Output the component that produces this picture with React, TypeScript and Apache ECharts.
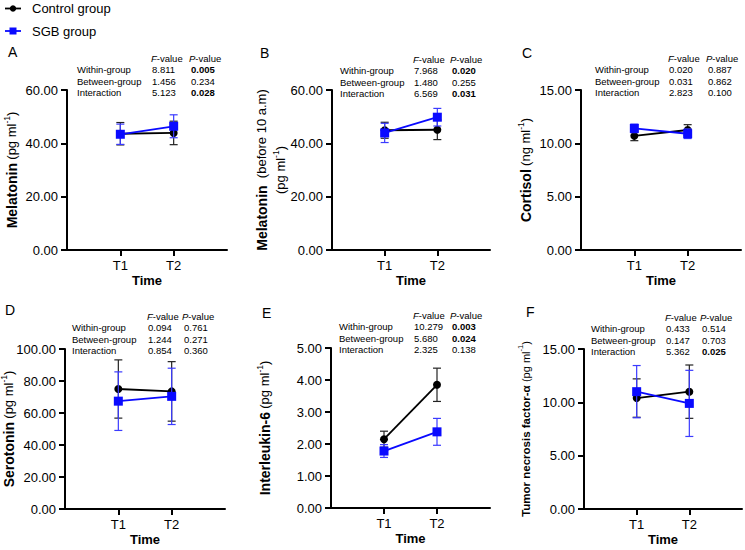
import React, { useEffect, useRef } from 'react';
import * as echarts from 'echarts';

const FONT = '"Liberation Sans", Arial, Helvetica, sans-serif';

// ---- data ----
const timePoints = ['T1', 'T2'];
const statRows = ['Within-group', 'Between-group', 'Interaction'];
const groupNames = ['Control group', 'SGB group'];

// A: Melatonin
const melatoninControl = [43.6, 43.9];
const melatoninControlErr = [4.2, 4.4];
const melatoninSGB = [43.4, 46.4];
const melatoninSGBErr = [3.8, 4.3];
const melatoninF = ['8.811', '1.456', '5.123'];
const melatoninP = ['0.005', '0.234', '0.028'];

// B: Melatonin before 10 a.m
const melatonin10Control = [44.9, 45.1];
const melatonin10ControlErr = [3.0, 3.7];
const melatonin10SGB = [43.9, 49.8];
const melatonin10SGBErr = [3.6, 3.3];
const melatonin10F = ['7.968', '1.480', '6.569'];
const melatonin10P = ['0.020', '0.255', '0.031'];

// C: Cortisol
const cortisolControl = [10.7, 11.25];
const cortisolControlErr = [0.45, 0.5];
const cortisolSGB = [11.4, 10.9];
const cortisolSGBErr = [0.4, 0.45];
const cortisolF = ['0.020', '0.031', '2.823'];
const cortisolP = ['0.887', '0.862', '0.100'];

// D: Serotonin
const serotoninControl = [75.0, 73.5];
const serotoninControlErr = [18.2, 18.6];
const serotoninSGB = [67.4, 70.4];
const serotoninSGBErr = [18.3, 17.6];
const serotoninF = ['0.094', '1.244', '0.854'];
const serotoninP = ['0.761', '0.271', '0.360'];

// E: Interleukin-6
const il6Control = [2.15, 3.85];
const il6ControlErr = [0.25, 0.52];
const il6SGB = [1.78, 2.38];
const il6SGBErr = [0.2, 0.42];
const il6F = ['10.279', '5.680', '2.325'];
const il6P = ['0.003', '0.024', '0.138'];

// F: TNF-alpha
const tnfControl = [10.4, 11.0];
const tnfControlErr = [1.8, 2.5];
const tnfSGB = [11.0, 9.9];
const tnfSGBErr = [2.45, 3.1];
const tnfF = ['0.433', '0.147', '5.362'];
const tnfP = ['0.514', '0.703', '0.025'];

const panelLetters = ['A', 'B', 'C', 'D', 'E', 'F'];
const yMaxes = [60, 60, 15, 100, 5, 15];
const yIntervals = [20, 20, 5, 20, 1, 5];

const BLACK = '#000000';
const BLUE = '#0a0aff';
const BLUE_ERR = '#3b3bff';
const BLACK_ERR = '#222222';

const unit = (ml: string, big: boolean) =>
  big
    ? `{n|(${ml}}{s|-1}{n|)}`
    : `{ns|(${ml}}{ss|-1}{ns|)}`;

const panels = [
  {
    name: `{b|Melatonin} ${unit('pg ml', true)}`,
    control: melatoninControl, controlErr: melatoninControlErr, sgb: melatoninSGB, sgbErr: melatoninSGBErr,
    F: melatoninF, P: melatoninP,
    grid: { left: 67, top: 90, width: 160, height: 160 }, nameGap: 46,
    table: { lx: 77, fx: 151, px: 189, y0: 58, dy: 11.5 }, letter: [8, 52],
  },
  {
    name: `{b|Melatonin}{n|  (before 10 a.m)}\n${unit('pg ml', true)}`,
    control: melatonin10Control, controlErr: melatonin10ControlErr, sgb: melatonin10SGB, sgbErr: melatonin10SGBErr,
    F: melatonin10F, P: melatonin10P,
    grid: { left: 332, top: 90, width: 158, height: 160 }, nameGap: 42,
    table: { lx: 340, fx: 413, px: 450, y0: 59, dy: 11.5 }, letter: [260, 53],
  },
  {
    name: `{b|Cortisol} ${unit('ng ml', true)}`,
    control: cortisolControl, controlErr: cortisolControlErr, sgb: cortisolSGB, sgbErr: cortisolSGBErr,
    F: cortisolF, P: cortisolP,
    grid: { left: 581, top: 90, width: 160, height: 160 }, nameGap: 46,
    table: { lx: 595, fx: 668, px: 706, y0: 58, dy: 11.5 }, letter: [522, 53],
  },
  {
    name: `{b|Serotonin} ${unit('pg ml', true)}`,
    control: serotoninControl, controlErr: serotoninControlErr, sgb: serotoninSGB, sgbErr: serotoninSGBErr,
    F: serotoninF, P: serotoninP,
    grid: { left: 65, top: 349, width: 160, height: 160 }, nameGap: 47,
    table: { lx: 72, fx: 147, px: 182, y0: 316, dy: 11.5 }, letter: [5, 310],
  },
  {
    name: `{b|Interleukin-6} ${unit('pg ml', true)}`,
    control: il6Control, controlErr: il6ControlErr, sgb: il6SGB, sgbErr: il6SGBErr,
    F: il6F, P: il6P,
    grid: { left: 331, top: 348, width: 159, height: 160 }, nameGap: 57,
    table: { lx: 339, fx: 413, px: 450, y0: 315, dy: 11.5 }, letter: [262, 313],
  },
  {
    name: `{bs|Tumor necrosis factor-α} ${unit('pg ml', false)}`,
    control: tnfControl, controlErr: tnfControlErr, sgb: tnfSGB, sgbErr: tnfSGBErr,
    F: tnfF, P: tnfP,
    grid: { left: 584, top: 349, width: 158, height: 160 }, nameGap: 49,
    table: { lx: 591, fx: 665, px: 700, y0: 317, dy: 11.5 }, letter: [526, 312],
  },
];

const errRender = (color: string) => (params: any, api: any) => {
  const x = api.value(0);
  const m = api.value(1);
  const e = api.value(2);
  const top = api.coord([x, m + e]);
  const bot = api.coord([x, m - e]);
  const hw = 4;
  const style = { stroke: color, lineWidth: 1.2 };
  return {
    type: 'group',
    children: [
      { type: 'line', shape: { x1: top[0], y1: top[1], x2: bot[0], y2: bot[1] }, style },
      { type: 'line', shape: { x1: top[0] - hw, y1: top[1], x2: top[0] + hw, y2: top[1] }, style },
      { type: 'line', shape: { x1: bot[0] - hw, y1: bot[1], x2: bot[0] + hw, y2: bot[1] }, style },
    ],
  };
};

function buildOption() {
  const grid: any[] = [];
  const xAxis: any[] = [];
  const yAxis: any[] = [];
  const series: any[] = [];
  const graphic: any[] = [];

  // legend drawn manually
  const legendY = [8.5, 31];
  const legendColors = [BLACK, BLUE];
  groupNames.forEach((g, k) => {
    const y = legendY[k];
    graphic.push({
      type: 'line', shape: { x1: 5, y1: y, x2: 21, y2: y },
      style: { stroke: legendColors[k], lineWidth: 1.8 },
    });
    if (k === 0) {
      graphic.push({ type: 'circle', shape: { cx: 13, cy: y, r: 3.2 }, style: { fill: BLACK } });
    } else {
      graphic.push({ type: 'rect', shape: { x: 9.5, y: y - 3.5, width: 7, height: 7 }, style: { fill: BLUE } });
    }
    graphic.push({
      type: 'text', x: 32, y,
      style: {
        text: g, fontFamily: FONT, fontSize: 13, fill: '#000',
        verticalAlign: 'middle', textVerticalAlign: 'middle',
      },
    });
  });

  panels.forEach((p, i) => {
    grid.push({ ...p.grid, containLabel: false, outerBoundsMode: 'none' });
    xAxis.push({
      type: 'value', gridIndex: i, min: 0, max: 3,
      name: 'Time', nameLocation: 'middle', nameGap: 24, nameMoveOverlap: false,
      nameTextStyle: { fontFamily: FONT, fontSize: 13, fontWeight: 'bold', color: '#000' },
      axisLine: { show: true, onZero: false, lineStyle: { color: '#000', width: 2 } },
      axisTick: { show: true, length: 6, lineStyle: { color: '#000', width: 2 }, customValues: [1, 2] },
      axisLabel: {
        show: true, margin: 9, fontFamily: FONT, fontSize: 13, color: '#000',
        customValues: [1, 2],
        formatter: (v: number) => timePoints[Math.round(v) - 1] ?? '',
      },
      splitLine: { show: false },
    });
    yAxis.push({
      type: 'value', gridIndex: i, min: 0, max: yMaxes[i], interval: yIntervals[i],
      name: p.name, nameLocation: 'middle', nameGap: p.nameGap, nameMoveOverlap: false,
      nameTextStyle: {
        fontFamily: FONT, color: '#000', align: 'center', lineHeight: 19,
        rich: {
          b: { fontFamily: FONT, fontSize: 14, fontWeight: 'bold', color: '#000' },
          bs: { fontFamily: FONT, fontSize: 11.5, fontWeight: 'bold', color: '#000' },
          n: { fontFamily: FONT, fontSize: 13, color: '#000' },
          s: { fontFamily: FONT, fontSize: 8.5, color: '#000', verticalAlign: 'top' },
          ns: { fontFamily: FONT, fontSize: 11, color: '#000' },
          ss: { fontFamily: FONT, fontSize: 7.5, color: '#000', verticalAlign: 'top' },
        },
      },
      axisLine: { show: true, lineStyle: { color: '#000', width: 2 } },
      axisTick: { show: true, length: 6, lineStyle: { color: '#000', width: 2 } },
      axisLabel: {
        margin: 9, fontFamily: FONT, fontSize: 13, color: '#000',
        formatter: (v: number) => v.toFixed(2),
      },
      splitLine: { show: false },
    });

    const cData = p.control.map((v, k) => [k + 1, v]);
    const sData = p.sgb.map((v, k) => [k + 1, v]);
    const cErr = p.control.map((v, k) => [k + 1, v, p.controlErr[k]]);
    const sErr = p.sgb.map((v, k) => [k + 1, v, p.sgbErr[k]]);

    series.push({
      type: 'custom', name: 'cerr', xAxisIndex: i, yAxisIndex: i,
      renderItem: errRender(BLACK_ERR), data: cErr, encode: { x: 0, y: [1] }, clip: false, z: 2,
    });
    series.push({
      type: 'line', name: groupNames[0], xAxisIndex: i, yAxisIndex: i, data: cData,
      symbol: 'circle', symbolSize: 8, color: BLACK,
      lineStyle: { color: BLACK, width: 1.8 }, itemStyle: { color: BLACK }, z: 3,
    });
    series.push({
      type: 'custom', name: 'serr', xAxisIndex: i, yAxisIndex: i,
      renderItem: errRender(BLUE_ERR), data: sErr, encode: { x: 0, y: [1] }, clip: false, z: 4,
    });
    series.push({
      type: 'line', name: groupNames[1], xAxisIndex: i, yAxisIndex: i, data: sData,
      symbol: 'rect', symbolSize: 9, color: BLUE,
      lineStyle: { color: BLUE, width: 1.8 }, itemStyle: { color: BLUE }, z: 5,
    });

    // panel letter
    graphic.push({
      type: 'text', x: p.letter[0], y: p.letter[1],
      style: {
        text: panelLetters[i], fontFamily: FONT, fontSize: 14, fill: '#000',
        verticalAlign: 'middle', textVerticalAlign: 'middle',
      },
    });

    // stats table
    const t = p.table;
    const baseStyle = { fontFamily: FONT, fontSize: 9.5, fill: '#000' };
    ['F', 'P'].forEach((letter, h) => {
      graphic.push({
        type: 'text', x: h === 0 ? t.fx : t.px, y: t.y0,
        style: {
          ...baseStyle, text: `{i|${letter}}-value`, verticalAlign: 'middle', textVerticalAlign: 'middle',
          rich: { i: { fontFamily: FONT, fontSize: 9.5, fontStyle: 'italic', fill: '#000' } },
        },
      });
    });
    statRows.forEach((row, r) => {
      const y = t.y0 + t.dy * (r + 1);
      graphic.push({
        type: 'text', x: t.lx, y,
        style: { ...baseStyle, text: row, verticalAlign: 'middle', textVerticalAlign: 'middle' },
      });
      graphic.push({
        type: 'text', x: t.fx + 1, y,
        style: { ...baseStyle, text: p.F[r], verticalAlign: 'middle', textVerticalAlign: 'middle' },
      });
      const sig = parseFloat(p.P[r]) < 0.05;
      graphic.push({
        type: 'text', x: t.px + 2, y,
        style: {
          ...baseStyle, text: p.P[r], fontWeight: sig ? 'bold' : 'normal',
          verticalAlign: 'middle', textVerticalAlign: 'middle',
        },
      });
    });
  });

  return {
    animation: false,
    backgroundColor: '#ffffff',
    grid, xAxis, yAxis, series, graphic,
  };
}

export default function App() {
  const ref = useRef<HTMLDivElement>(null);
  useEffect(() => {
    if (!ref.current) return;
    const chart = echarts.init(ref.current, undefined, { renderer: 'svg' });
    chart.setOption(buildOption() as any);
    return () => chart.dispose();
  }, []);
  return (
    <div
      ref={ref}
      style={{ position: 'fixed', left: 0, top: 0, width: 745, height: 550, background: '#fff' }}
    />
  );
}
